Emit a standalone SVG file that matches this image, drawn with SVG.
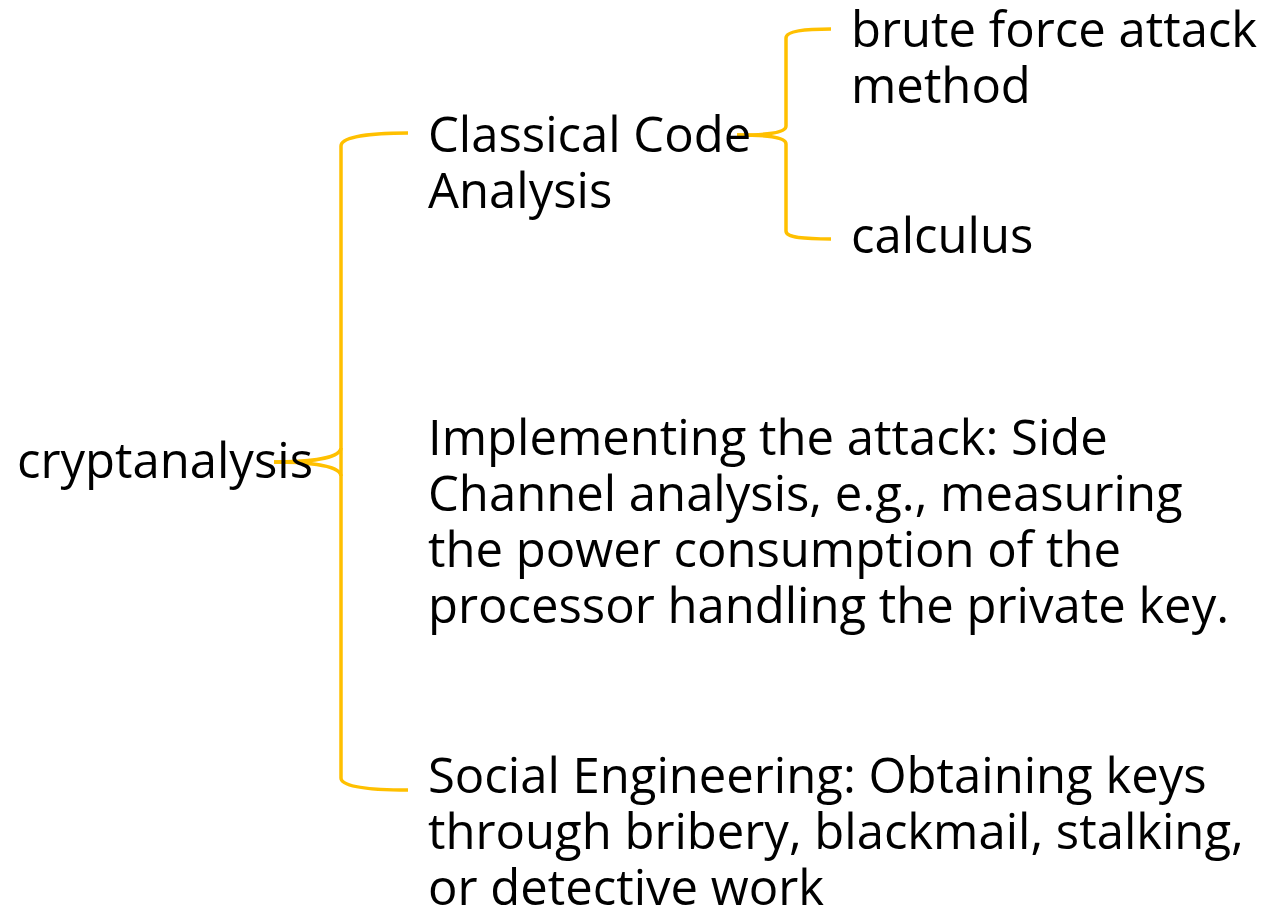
<svg xmlns="http://www.w3.org/2000/svg" width="1266" height="911" viewBox="0 0 1266 911">
  <style>
    .lbl { font-family: "Open Sans", "Noto Sans", "Liberation Sans", sans-serif; font-size: 49px; fill: #000; }
    .link { fill: none; stroke: #FFC000; stroke-width: 3.5; stroke-linecap: butt; stroke-linejoin: round; }
  </style>
  <rect width="1266" height="911" fill="#fff"/>

  <!-- connectors -->
  <g id="connectors">
    <!-- root bracket -->
    <path class="link" d="M 274 462 C 300 462, 340 460, 341 448 L 341 146 C 341 137, 370 133, 408 133"/>
    <path class="link" d="M 274 462 C 300 462, 340 464, 341 476 L 341 778 C 341 787, 370 790, 408 790"/>
    <path class="link" d="M 341 448 L 341 476"/>
    <!-- classical analysis bracket -->
    <path class="link" d="M 737 135 C 760 135, 786 134, 786 126 L 786 38 C 786 31, 805 29, 831 29"/>
    <path class="link" d="M 737 135 C 760 135, 786 136, 786 144 L 786 231 C 786 238, 805 239, 831 239"/>
  </g>

  <g id="node-root">
    <text class="lbl" x="17" y="478">cryptanalysis</text>
  </g>
  <g id="node-classical">
    <text class="lbl" x="428" y="152">Classical Code<tspan x="428" dy="56">Analysis</tspan></text>
  </g>
  <g id="node-bruteforce">
    <text class="lbl" x="851" y="47">brute force attack<tspan x="851" dy="56">method</tspan></text>
  </g>
  <g id="node-calculus">
    <text class="lbl" x="851" y="253">calculus</text>
  </g>
  <g id="node-sidechannel">
    <text class="lbl" x="428" y="455">Implementing the attack: Side<tspan x="428" dy="56">Channel analysis, e.g., measuring</tspan><tspan x="428" dy="56">the power consumption of the</tspan><tspan x="428" dy="56">processor handling the private key.</tspan></text>
  </g>
  <g id="node-social">
    <text class="lbl" x="428" y="793">Social Engineering: Obtaining keys<tspan x="428" dy="56">through bribery, blackmail, stalking,</tspan><tspan x="428" dy="56">or detective work</tspan></text>
  </g>
</svg>
